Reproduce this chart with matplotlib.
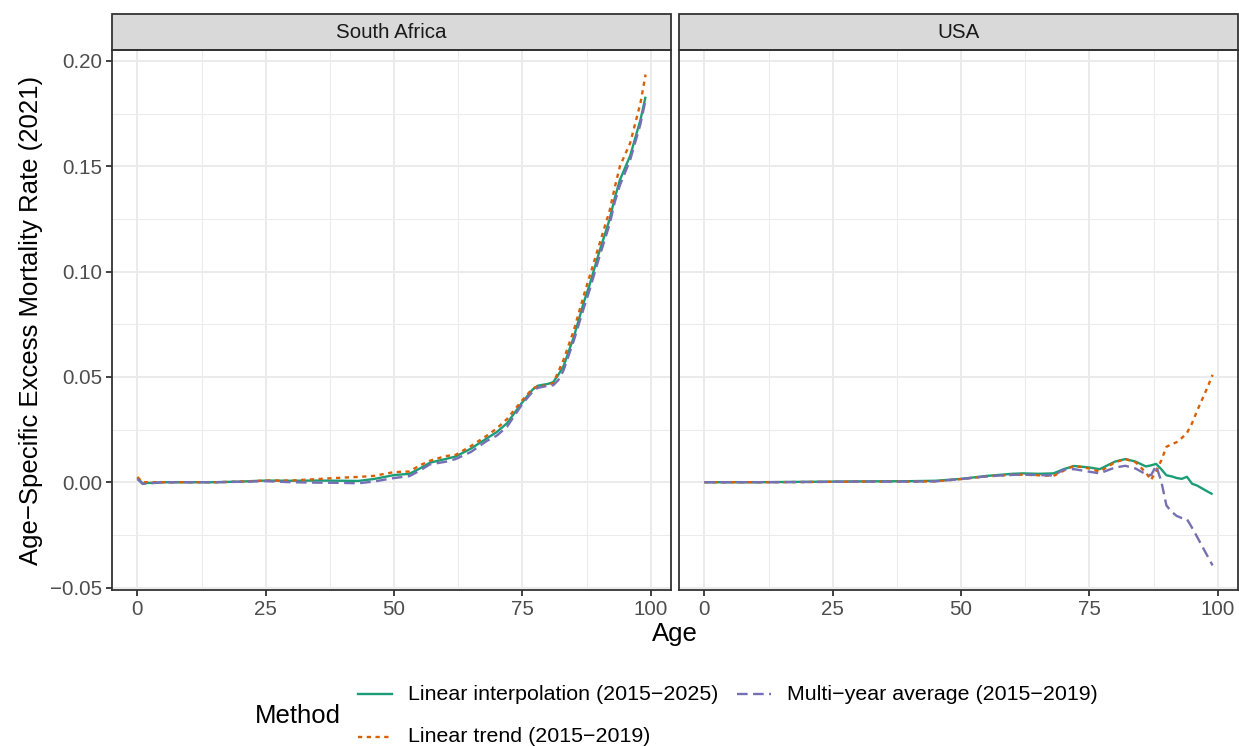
import numpy as np
import matplotlib
matplotlib.use("Agg")
import matplotlib.pyplot as plt
from matplotlib.patches import Rectangle
from matplotlib.lines import Line2D

plt.rcParams['font.family'] = ['Liberation Sans', 'DejaVu Sans']

# ---------------- data ----------------
panels = ["South Africa", "USA"]
methods = ["Linear interpolation (2015\u22122025)", "Linear trend (2015\u22122019)",
           "Multi\u2212year average (2015\u22122019)"]

sa_age = [0, 1, 5, 10, 15, 20, 25, 30, 35, 40, 43, 46, 50, 53, 55, 57, 60, 62, 65, 68, 70,
          72, 75, 77, 78, 80, 81, 82, 83, 85, 87, 88, 90, 92, 93, 94, 96, 98, 99]
sa_interp = [0.002, -0.0005, 0.0, 0.0, 0.0, 0.0003, 0.0008, 0.0007, 0.0008, 0.0007, 0.0006,
             0.0015, 0.0034, 0.0040, 0.0065, 0.0093, 0.0110, 0.0122, 0.0160, 0.0207, 0.0238,
             0.0280, 0.0380, 0.0440, 0.0458, 0.0467, 0.0475, 0.0510, 0.0550, 0.0688, 0.0857,
             0.0930, 0.1095, 0.1248, 0.1350, 0.1435, 0.1550, 0.1720, 0.1830]
sa_trend = [0.0025, 0.0, 0.0, 0.0, 0.0, 0.0003, 0.0008, 0.0008, 0.0015, 0.0022, 0.0025,
            0.0030, 0.0048, 0.0051, 0.0080, 0.0102, 0.0124, 0.0130, 0.0172, 0.0220, 0.0255,
            0.0300, 0.0390, 0.0445, 0.0455, 0.0460, 0.0470, 0.0525, 0.0580, 0.0720, 0.0890,
            0.0970, 0.1130, 0.1290, 0.1400, 0.1500, 0.1610, 0.1800, 0.1935]
sa_avg = [0.0015, -0.0008, 0.0, 0.0, 0.0, 0.0002, 0.0005, 0.0, -0.0002, -0.0003, -0.0005,
          0.0003, 0.0020, 0.0029, 0.0055, 0.0085, 0.0097, 0.0110, 0.0144, 0.0195, 0.0221,
          0.0263, 0.0372, 0.0430, 0.0448, 0.0458, 0.0460, 0.0485, 0.0530, 0.0671, 0.0830,
          0.0905, 0.1070, 0.1225, 0.1330, 0.1410, 0.1530, 0.1700, 0.1815]

us_age = [0, 10, 20, 30, 40, 45, 50, 55, 60, 62, 65, 68, 70, 72, 75, 77, 80, 82, 84, 86, 87,
          88, 89, 90, 91, 92, 93, 94, 95, 96, 98, 99]
us_interp = [0.0, 0.0, 0.0002, 0.0004, 0.0005, 0.0007, 0.0016, 0.0030, 0.0040, 0.0042, 0.0040,
             0.0042, 0.0062, 0.0077, 0.0070, 0.0062, 0.0098, 0.0110, 0.0098, 0.0075, 0.0080,
             0.0087, 0.0062, 0.0033, 0.0028, 0.0020, 0.0016, 0.0026, -0.0007, -0.0016,
             -0.0044, -0.0057]
us_trend = [0.0, 0.0, 0.0001, 0.0003, 0.0003, 0.0004, 0.0015, 0.0028, 0.0035, 0.0036, 0.0033,
            0.0030, 0.0055, 0.0078, 0.0065, 0.0050, 0.0095, 0.0110, 0.0095, 0.0046, 0.0010,
            0.0054, 0.0103, 0.0168, 0.0180, 0.0190, 0.0210, 0.0234, 0.0280, 0.0340, 0.0450,
            0.0510]
us_avg = [0.0, 0.0, 0.0001, 0.0003, 0.0003, 0.0004, 0.0015, 0.0028, 0.0035, 0.0036, 0.0034,
          0.0032, 0.0060, 0.0062, 0.0050, 0.0042, 0.0070, 0.0078, 0.0065, 0.0038, 0.0033,
          0.0078, 0.0005, -0.0110, -0.0140, -0.0160, -0.0170, -0.0175, -0.0216, -0.0260,
          -0.0350, -0.0395]

x_ticks = [0, 25, 50, 75, 100]
y_ticks = [-0.05, 0.00, 0.05, 0.10, 0.15, 0.20]
y_tick_labels = ["\u22120.05", "0.00", "0.05", "0.10", "0.15", "0.20"]

# ---------------- style ----------------
colors = ["#1B9E77", "#D95F02", "#7570B3"]
styles = ["-", (0, (1.8, 1.9)), (0, (4.5, 2.3))]
LW = 1.7
FS_SMALL = 14.8
FS_LEG = 15.4
FS_BIG = 18.5

W, H = 1239, 746
fig = plt.figure(figsize=(W / 100, H / 100), dpi=100)

def fx(px):
    return px / W

def fy(py):
    return 1 - py / H

panel_top, panel_bot = 50, 590
lefts = [112, 679]
pw = 671 - 112
ph = panel_bot - panel_top

data = {
    "South Africa": (sa_age, [sa_interp, sa_trend, sa_avg]),
    "USA": (us_age, [us_interp, us_trend, us_avg]),
}

allv = np.concatenate([np.array(v) for _, (a, s) in data.items() for v in s])
ymin, ymax = allv.min(), allv.max()
yr = ymax - ymin
ylim = (ymin - 0.05 * yr, ymax + 0.05 * yr)
xlim = (0 - 0.05 * 99, 99 + 0.05 * 99)

axes = []
for i, name in enumerate(panels):
    ax = fig.add_axes([fx(lefts[i]), fy(panel_bot), fx(pw), ph / H])
    axes.append(ax)
    ages, series = data[name]
    for s, c, ls in zip(series, colors, styles):
        ax.plot(ages, s, color=c, lw=LW, linestyle=ls, solid_capstyle='butt', zorder=3)
    ax.set_xlim(*xlim)
    ax.set_ylim(*ylim)
    ax.set_xticks(x_ticks)
    ax.set_xticks([12.5, 37.5, 62.5, 87.5], minor=True)
    ax.set_yticks(y_ticks)
    ax.set_yticks([-0.025, 0.025, 0.075, 0.125, 0.175], minor=True)
    ax.grid(which='major', color='#EBEBEB', lw=1.4, zorder=0)
    ax.grid(which='minor', color='#EBEBEB', lw=0.75, zorder=0)
    ax.set_axisbelow(True)
    for sp in ax.spines.values():
        sp.set_color('#333333')
        sp.set_linewidth(1.3)
    ax.tick_params(which='major', length=4.5, width=1.3, color='#333333', labelcolor='#4D4D4D',
                   labelsize=FS_SMALL, pad=2.5)
    ax.tick_params(which='minor', length=0)
    ax.set_xticklabels([str(t) for t in x_ticks])
    if i == 0:
        ax.set_yticklabels(y_tick_labels)
    else:
        ax.set_yticklabels([])
        ax.tick_params(axis='y', which='major', length=0)
    # strip
    rect = Rectangle((0, 1), 1, 36 / ph, transform=ax.transAxes,
                     facecolor='#D9D9D9', edgecolor='#333333', lw=1.3, clip_on=False)
    ax.add_patch(rect)
    ax.text(0.5, 1 + 18 / ph, name, transform=ax.transAxes,
            ha='center', va='center', fontsize=FS_SMALL, color='#1A1A1A')

fig.text(fx(31), fy(320), "Age\u2212Specific Excess Mortality Rate (2021)", rotation=90,
         ha='center', va='center', fontsize=FS_BIG)
fig.text(fx(675), fy(634), "Age", ha='center', va='center', fontsize=FS_BIG)

# legend (manual layout, ggplot style: title on the left, two columns)
fig.text(fx(255), fy(716), "Method", ha='left', va='center', fontsize=FS_BIG)
entries = [(358, 694), (358, 737), (737, 694)]
for (x0, y0), c, ls, lab in zip(entries, colors, styles, methods):
    fig.add_artist(Line2D([fx(x0), fx(x0 + 34)], [fy(y0), fy(y0)], transform=fig.transFigure,
                          color=c, lw=LW, linestyle=ls))
    fig.text(fx(x0 + 50), fy(y0), lab, ha='left', va='center', fontsize=FS_LEG,
             color='#000000')

fig.savefig("out.png", dpi=100)
